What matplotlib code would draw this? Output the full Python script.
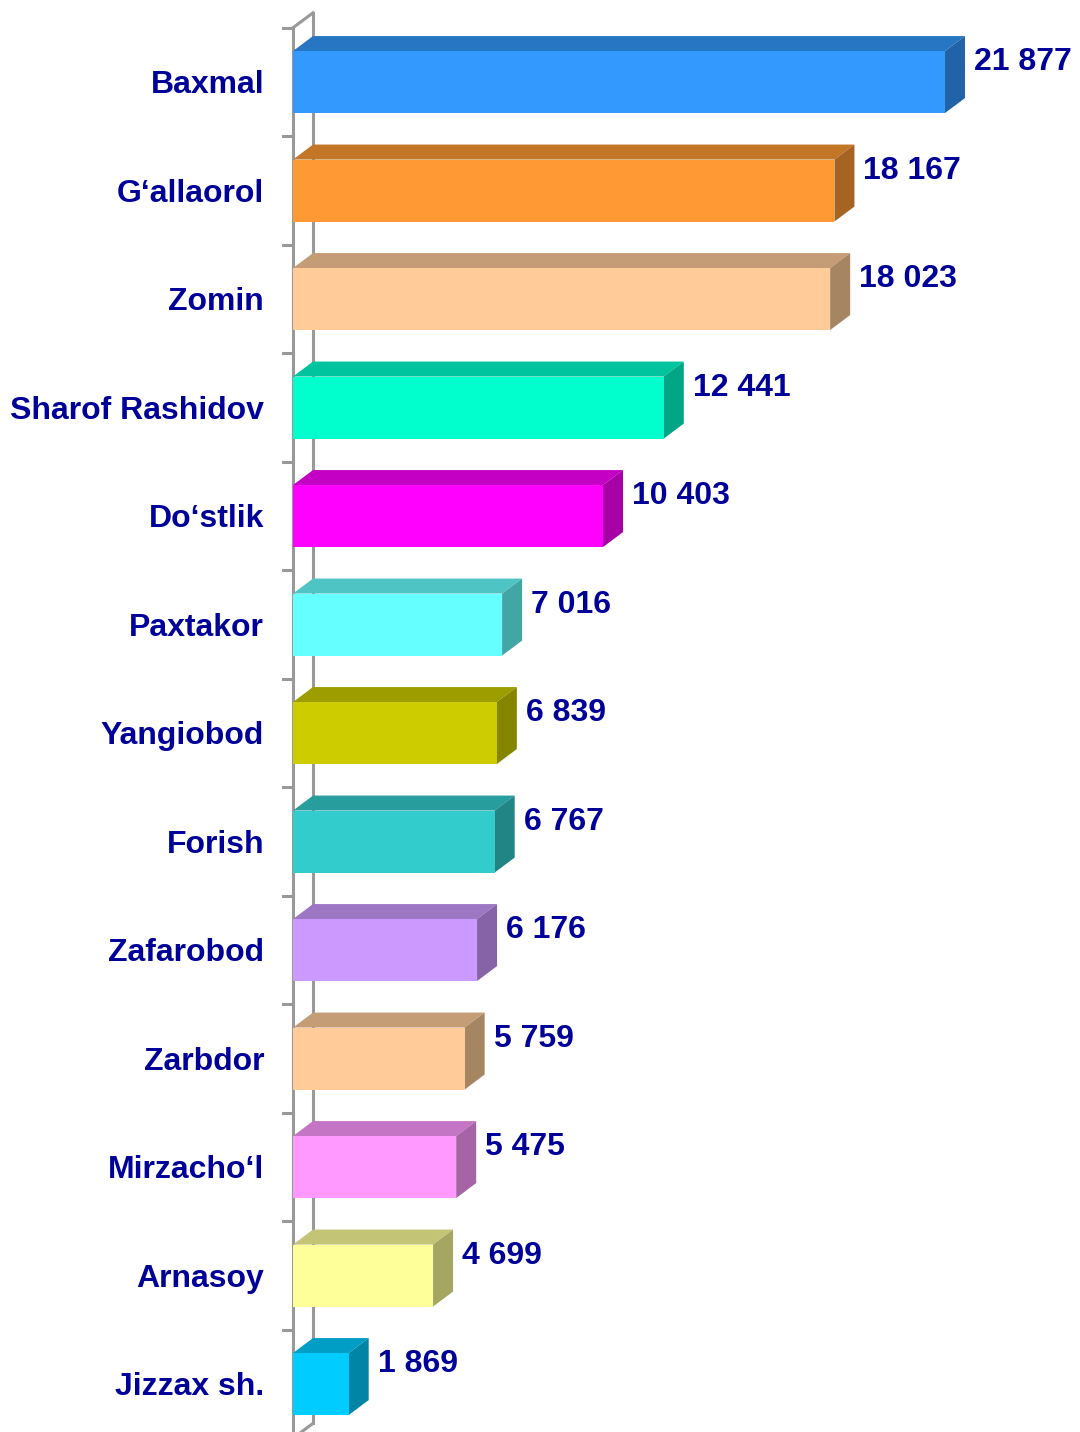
import matplotlib
matplotlib.use('Agg')
import matplotlib.pyplot as plt
from matplotlib.patches import Polygon
from matplotlib.colors import to_rgb

districts = ['Baxmal', 'G\u2018allaorol', 'Zomin', 'Sharof Rashidov', 'Do\u2018stlik',
             'Paxtakor', 'Yangiobod', 'Forish', 'Zafarobod', 'Zarbdor',
             'Mirzacho\u2018l', 'Arnasoy', 'Jizzax sh.']
values = [21877, 18167, 18023, 12441, 10403, 7016, 6839, 6767, 6176, 5759,
          5475, 4699, 1869]
colors = ['#3399FF', '#FF9933', '#FFCC99', '#00FFCC', '#FF00FF', '#66FFFF',
          '#CCCC00', '#33CCCC', '#CC99FF', '#FFCC99', '#FF99FF', '#FFFF99',
          '#00CCFF']

TEXT = '#000099'
WALL = '#999999'
plt.rcParams['font.family'] = ['Liberation Sans', 'DejaVu Sans']

fig = plt.figure(figsize=(10.8, 14.32), dpi=100)
ax = fig.add_axes([0, 0, 1, 1])
ax.set_xlim(-9831, 26406)
ax.set_ylim(12.442, -0.756)
ax.axis('off')

n = len(values)
half = 0.2857          # half bar height (category units)
dx, dy = 671, -0.138   # 3D depth offset


def shade(c, f):
    r, g, b = to_rgb(c)
    return (r * f, g * f, b * f)


# side wall
ax.plot([0, 0], [-0.5, n - 0.5], color=WALL, lw=2.2, zorder=1, clip_on=False)
ax.plot([dx, dx], [-0.5 + dy, n - 0.5 + dy], color=WALL, lw=2.2, zorder=1, clip_on=False)
ax.plot([0, dx], [-0.5, -0.5 + dy], color=WALL, lw=2.2, zorder=1)
ax.plot([0, dx], [n - 0.5, n - 0.5 + dy], color=WALL, lw=2.2, zorder=1, clip_on=False)
for k in range(n + 1):
    ax.plot([-335, 0], [k - 0.5, k - 0.5], color=WALL, lw=2.2, zorder=1, clip_on=False)

for i, (name, v, c) in enumerate(zip(districts, values, colors)):
    y0, y1 = i - half, i + half
    front = Polygon([(0, y0), (v, y0), (v, y1), (0, y1)], closed=True,
                    facecolor=c, edgecolor='none', zorder=3)
    top = Polygon([(0, y0), (v, y0), (v + dx, y0 + dy), (dx, y0 + dy)], closed=True,
                  facecolor=shade(c, 0.77), edgecolor='none', zorder=3)
    side = Polygon([(v, y0), (v + dx, y0 + dy), (v + dx, y1 + dy), (v, y1)], closed=True,
                   facecolor=shade(c, 0.65), edgecolor='none', zorder=3)
    for p in (top, side, front):
        ax.add_patch(p)

    ax.annotate(name, xy=(0, i), xytext=(-29, -3), textcoords='offset pixels',
                ha='right', va='center', fontsize=23, fontweight='bold',
                color=TEXT, annotation_clip=False)
    label = f'{v:,}'.replace(',', ' ')
    ax.annotate(label, xy=(v + dx, i), xytext=(9, 20), textcoords='offset pixels',
                ha='left', va='center', fontsize=23, fontweight='bold',
                color=TEXT, annotation_clip=False)

fig.savefig('out.png', dpi=100)
